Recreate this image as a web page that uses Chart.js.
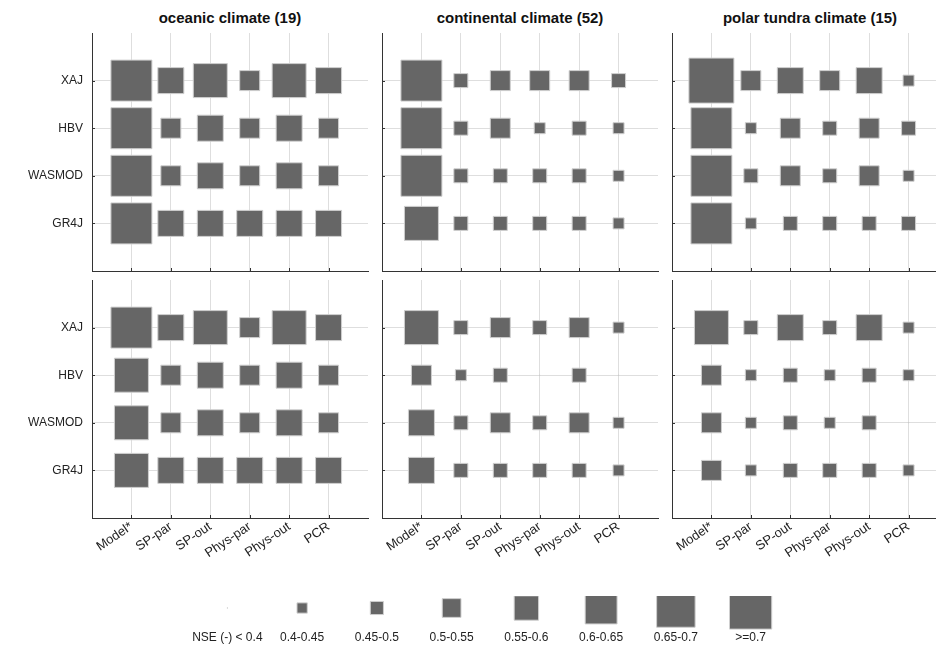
<!DOCTYPE html>
<html>
<head>
<meta charset="utf-8">
<script src="https://cdn.jsdelivr.net/npm/chart.js@4.4.0/dist/chart.umd.min.js"></script>
<style>
html, body { margin: 0; padding: 0; background: #fff; overflow: hidden; width: 936px; height: 655px; }
canvas { position: absolute; }
.ttl { position: absolute; top: 9px; width: 276px; text-align: center; font: bold 15px "Liberation Sans", Arial, sans-serif; color: #111; }
</style>
</head>
<body>
<script>
const models = ['XAJ', 'HBV', 'WASMOD', 'GR4J'];
const methods = ['Model*', 'SP-par', 'SP-out', 'Phys-par', 'Phys-out', 'PCR'];
const nseClasses = ['NSE (-) < 0.4', '0.4-0.45', '0.45-0.5', '0.5-0.55', '0.55-0.6', '0.6-0.65', '0.65-0.7', '>=0.7'];
const climates = ['oceanic climate (19)', 'continental climate (52)', 'polar tundra climate (15)'];

// NSE class per cell (0 = <0.4 ... 7 = >=0.7), rows = models, cols = methods
const oceanicTop = [
    [6, 4, 5, 3, 5, 4],
    [6, 3, 4, 3, 4, 3],
    [6, 3, 4, 3, 4, 3],
    [6, 4, 4, 4, 4, 4]
];
const continentalTop = [
    [6, 2, 3, 3, 3, 2],
    [6, 2, 3, 1, 2, 1],
    [6, 2, 2, 2, 2, 1],
    [5, 2, 2, 2, 2, 1]
];
const polarTop = [
    [7, 3, 4, 3, 4, 1],
    [6, 1, 3, 2, 3, 2],
    [6, 2, 3, 2, 3, 1],
    [6, 1, 2, 2, 2, 2]
];
const oceanicBottom = [
    [6, 4, 5, 3, 5, 4],
    [5, 3, 4, 3, 4, 3],
    [5, 3, 4, 3, 4, 3],
    [5, 4, 4, 4, 4, 4]
];
const continentalBottom = [
    [5, 2, 3, 2, 3, 1],
    [3, 1, 2, 0, 2, 0],
    [4, 2, 3, 2, 3, 1],
    [4, 2, 2, 2, 2, 1]
];
const polarBottom = [
    [5, 2, 4, 2, 4, 1],
    [3, 1, 2, 1, 2, 1],
    [3, 1, 2, 1, 2, 0],
    [3, 1, 2, 2, 2, 1]
];

// square side in px for each class
const sidePx = [1.5, 12, 15, 21, 27, 35, 42, 46];
const FONT = { family: '"Liberation Sans", Arial, sans-serif', size: 12 };
const XFONT = { family: '"Liberation Sans", Arial, sans-serif', size: 13 };

// small tick marks pointing into the axes, like matlab
const innerTicks = {
    id: 'innerTicks',
    afterDraw(chart) {
        const { ctx, chartArea: a, scales: { x, y } } = chart;
        ctx.save();
        ctx.strokeStyle = '#333';
        ctx.lineWidth = 1;
        ctx.beginPath();
        x.ticks.forEach(t => {
            const px = Math.round(x.getPixelForValue(t.value)) + 0.5;
            ctx.moveTo(px, a.bottom);
            ctx.lineTo(px, a.bottom - 3);
        });
        y.ticks.forEach(t => {
            const py = Math.round(y.getPixelForValue(t.value)) + 0.5;
            ctx.moveTo(a.left, py);
            ctx.lineTo(a.left + 3, py);
        });
        ctx.stroke();
        ctx.restore();
    }
};

function noPad(s) {
    s.paddingTop = 0;
    s.paddingBottom = 0;
    s.paddingLeft = 0;
    s.paddingRight = 0;
}

function addCanvas(left, top, w, h) {
    const cv = document.createElement('canvas');
    cv.width = w;
    cv.height = h;
    cv.style.left = left + 'px';
    cv.style.top = top + 'px';
    document.body.appendChild(cv);
    return cv;
}

function panel(grid, areaLeft, areaTop, showY, showX) {
    const bottomPad = showX ? 70 : 6;
    const cv = addCanvas(areaLeft - 90, areaTop - 6, 90 + 276 + 6, 6 + 238 + bottomPad);
    const pts = [];
    grid.forEach((row, r) => row.forEach((c, k) => pts.push({ x: k + 1, y: r + 1, c: c })));

    new Chart(cv, {
        type: 'scatter',
        data: {
            datasets: [{
                data: pts,
                pointStyle: 'rect',
                backgroundColor: '#666666',
                borderColor: '#cfcfcf',
                borderWidth: 1,
                pointRadius: ctx => (sidePx[ctx.raw.c] - 1) / Math.SQRT2,
                pointHoverRadius: ctx => (sidePx[ctx.raw.c] - 1) / Math.SQRT2,
                clip: false
            }]
        },
        options: {
            responsive: false,
            animation: false,
            events: [],
            layout: { autoPadding: false, padding: { top: 6, right: 6, left: 0, bottom: 0 } },
            plugins: { legend: { display: false }, tooltip: { enabled: false } },
            scales: {
                x: {
                    type: 'linear', min: 0, max: 7,
                    afterBuildTicks: s => { s.ticks = methods.map((m, i) => ({ value: i + 1 })); },
                    afterFit: s => { s.height = bottomPad; noPad(s); },
                    ticks: {
                        display: showX, autoSkip: false, minRotation: 34, maxRotation: 34,
                        padding: 1, color: '#222', font: XFONT,
                        callback: v => methods[v - 1]
                    },
                    grid: { color: '#dedede', drawTicks: false },
                    border: { color: '#333', width: 1 }
                },
                y: {
                    type: 'linear', min: 0, max: 5, reverse: true,
                    afterBuildTicks: s => { s.ticks = models.map((m, i) => ({ value: i + 1 })); },
                    afterFit: s => { s.width = 90; noPad(s); },
                    ticks: {
                        display: showY, padding: 9, color: '#222', font: FONT,
                        callback: v => models[v - 1]
                    },
                    grid: { color: '#dedede', drawTicks: false },
                    border: { color: '#333', width: 1 }
                }
            }
        },
        plugins: [innerTicks]
    });
}

const colLeft = [92, 382, 672];
const rowTop = [33, 280];

climates.forEach((t, i) => {
    const d = document.createElement('div');
    d.className = 'ttl';
    d.style.left = colLeft[i] + 'px';
    d.textContent = t;
    document.body.appendChild(d);
});

panel(oceanicTop, colLeft[0], rowTop[0], true, false);
panel(continentalTop, colLeft[1], rowTop[0], false, false);
panel(polarTop, colLeft[2], rowTop[0], false, false);
panel(oceanicBottom, colLeft[0], rowTop[1], true, true);
panel(continentalBottom, colLeft[1], rowTop[1], false, true);
panel(polarBottom, colLeft[2], rowTop[1], false, true);

// size legend
const legCv = addCanvas(190, 596, 598, 59);
new Chart(legCv, {
    type: 'scatter',
    data: {
        datasets: [{
            data: nseClasses.map((n, i) => ({ x: i, y: 0.5, c: i })),
            pointStyle: 'rect',
            backgroundColor: '#666666',
            borderColor: '#cfcfcf',
            borderWidth: 1,
            pointRadius: ctx => (sidePx[ctx.raw.c] * 0.94 - 1) / Math.SQRT2,
            pointHoverRadius: ctx => (sidePx[ctx.raw.c] * 0.94 - 1) / Math.SQRT2,
            clip: false
        }]
    },
    options: {
        responsive: false,
        animation: false,
        events: [],
        layout: { autoPadding: false, padding: { top: 6, right: 0, left: 0, bottom: 0 } },
        plugins: { legend: { display: false }, tooltip: { enabled: false } },
        scales: {
            x: {
                type: 'linear', min: -0.5, max: 7.5,
                afterBuildTicks: s => { s.ticks = nseClasses.map((n, i) => ({ value: i })); },
                afterFit: s => { s.height = 41; noPad(s); },
                ticks: { autoSkip: false, maxRotation: 0, padding: 8, color: '#222', font: FONT, callback: v => nseClasses[v] },
                grid: { display: false },
                border: { display: false }
            },
            y: { display: false, min: 0, max: 1 }
        }
    }
});
</script>
</body>
</html>
